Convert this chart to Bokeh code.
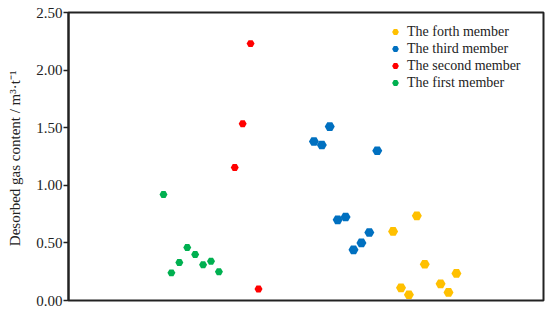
from bokeh.plotting import figure
from bokeh.models import Range1d, FixedTicker, NumeralTickFormatter, Legend, LegendItem
from bokeh.embed import file_html
from bokeh.resources import INLINE

# sample positions (index along the section) and desorbed gas content (m3/t)
first_x = [0, 1, 2, 3, 4, 5, 6, 7]
first_y = [0.92, 0.24, 0.33, 0.46, 0.40, 0.31, 0.34, 0.25]

second_x = [9, 10, 11, 12]
second_y = [1.155, 1.535, 2.23, 0.10]

third_x = [19, 20, 21, 22, 23, 24, 25, 26, 27]
third_y = [1.38, 1.35, 1.51, 0.70, 0.725, 0.44, 0.50, 0.59, 1.30]

forth_x = [29, 30, 31, 32, 33, 35, 36, 37]
forth_y = [0.60, 0.11, 0.05, 0.735, 0.315, 0.145, 0.07, 0.235]

y_ticks = [0.0, 0.5, 1.0, 1.5, 2.0, 2.5]

FONT = "Liberation Serif"

p = figure(width=548, height=310, output_backend="svg", toolbar_location=None,
           x_range=Range1d(-12, 48), y_range=Range1d(0, 2.5),
           x_axis_location=None,
           min_border_left=68, min_border_right=5, min_border_top=12, min_border_bottom=10)

p.xgrid.visible = False
p.ygrid.visible = False
p.outline_line_color = "#222222"
p.outline_line_width = 2

ax = p.yaxis[0]
ax.ticker = FixedTicker(ticks=y_ticks)
ax.formatter = NumeralTickFormatter(format="0.00")
ax.axis_label = "Desorbed gas content  / m³·t⁻¹"
ax.axis_label_text_font = FONT
ax.axis_label_text_font_style = "normal"
ax.axis_label_text_font_size = "15px"
ax.axis_label_text_color = "#222222"
ax.axis_label_standoff = 10
ax.major_label_text_font = FONT
ax.major_label_text_font_size = "15px"
ax.major_label_text_color = "#222222"
ax.major_label_standoff = 1
ax.major_tick_out = 5
ax.major_tick_in = 0
ax.minor_tick_line_color = None
ax.axis_line_color = "#222222"
ax.axis_line_width = 2
ax.major_tick_line_color = "#222222"
ax.major_tick_line_width = 1.5

r4 = p.scatter(forth_x, forth_y, marker="hex", size=10, fill_color="#FFC000", line_color=None)
r3 = p.scatter(third_x, third_y, marker="hex", size=10, fill_color="#0070C0", line_color=None)
r2 = p.scatter(second_x, second_y, marker="hex", size=8, fill_color="#FF0000", line_color=None)
r1 = p.scatter(first_x, first_y, marker="hex", size=8, fill_color="#00B050", line_color=None)

legend = Legend(items=[
    LegendItem(label="The forth member", renderers=[r4]),
    LegendItem(label="The third member", renderers=[r3]),
    LegendItem(label="The second member", renderers=[r2]),
    LegendItem(label="The first member", renderers=[r1]),
], location=(317, 209), padding=0, margin=0, spacing=0,
    glyph_width=20, glyph_height=17, label_height=17, label_standoff=2,
    label_text_font=FONT, label_text_font_size="14px", label_text_color="#222222",
    border_line_color=None, background_fill_alpha=0)
p.add_layout(legend, "center")

open("out.html", "w").write(file_html(p, INLINE))
